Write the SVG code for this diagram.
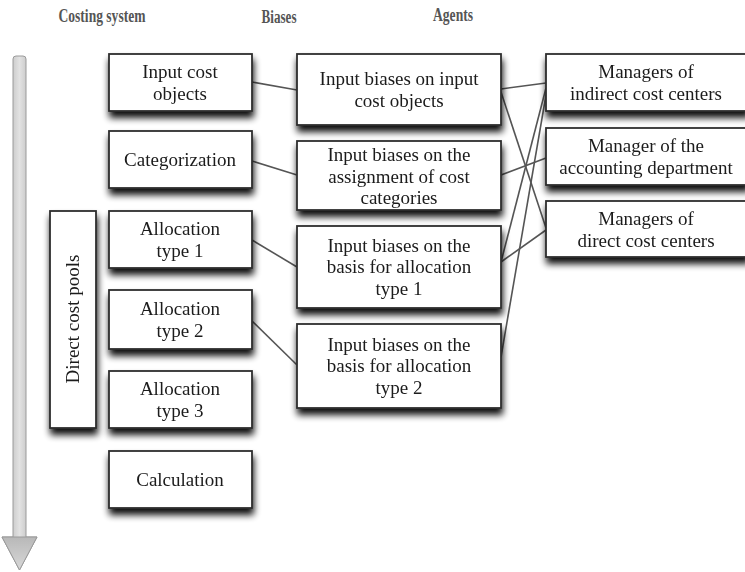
<svg xmlns="http://www.w3.org/2000/svg" width="745" height="572" viewBox="0 0 745 572">
  <defs>
    <filter id="shadow" x="-20%" y="-20%" width="150%" height="160%">
      <feGaussianBlur in="SourceAlpha" stdDeviation="3.5"/>
      <feOffset dx="1" dy="6" result="blur"/>
      <feComponentTransfer><feFuncA type="linear" slope="0.95"/></feComponentTransfer>
      <feMerge><feMergeNode/><feMergeNode in="SourceGraphic"/></feMerge>
    </filter>
    <linearGradient id="shaft" x1="0" y1="0" x2="1" y2="0">
      <stop offset="0" stop-color="#a9a9a9"/>
      <stop offset="0.5" stop-color="#e2e2e2"/>
      <stop offset="1" stop-color="#a9a9a9"/>
    </linearGradient>
    <linearGradient id="head" x1="0" y1="0" x2="0" y2="1">
      <stop offset="0" stop-color="#b8b8b8"/>
      <stop offset="1" stop-color="#d8d8d8"/>
    </linearGradient>
  </defs>
  <style>
    .box { fill: #ffffff; stroke: #2e2e2e; stroke-width: 1.8; }
    .lbl { font-family: 'Liberation Serif', 'DejaVu Serif', 'Times New Roman', Times, serif; font-size: 19px; fill: #1a1a1a; text-anchor: middle; }
    .hdr { font-family: 'Liberation Serif', 'DejaVu Serif', 'Times New Roman', Times, serif; font-size: 18.5px; font-weight: bold; fill: #555555; text-anchor: middle; }
    .conn { stroke: #555555; stroke-width: 1.6; fill: none; }
  </style>

  <!-- column headings -->
  <g id="headings">
    <text class="hdr" x="102" y="22" textLength="87" lengthAdjust="spacingAndGlyphs">Costing system</text>
    <text class="hdr" x="279" y="23" textLength="35" lengthAdjust="spacingAndGlyphs">Biases</text>
    <text class="hdr" x="453" y="21" textLength="40" lengthAdjust="spacingAndGlyphs">Agents</text>
  </g>

  <!-- process direction arrow -->
  <g id="flow-arrow">
    <path d="M13,59 Q13,56 16,56 L23,56 Q26,56 26,59 L26,537 L37,537 L19.5,570 L2,537 L13,537 Z" fill="url(#shaft)" stroke="#9a9a9a" stroke-width="1"/>
    <path d="M26,537 L37,537 L19.5,570 L2,537 L13,537 Z" fill="url(#head)" stroke="#9a9a9a" stroke-width="1"/>
  </g>

  <!-- connectors -->
  <g id="connectors">
    <line class="conn" x1="252" y1="82" x2="297" y2="90"/>
    <line class="conn" x1="252" y1="161" x2="297" y2="175"/>
    <line class="conn" x1="252" y1="240" x2="297" y2="267"/>
    <line class="conn" x1="252" y1="321" x2="297" y2="365"/>
    <line class="conn" x1="501" y1="89" x2="546" y2="83"/>
    <line class="conn" x1="501" y1="92" x2="546" y2="228"/>
    <line class="conn" x1="501" y1="175" x2="546" y2="158"/>
    <line class="conn" x1="501" y1="262" x2="546" y2="230"/>
    <line class="conn" x1="501" y1="262" x2="546" y2="88"/>
    <line class="conn" x1="501" y1="357" x2="546" y2="95"/>
  </g>

  <!-- costing system column -->
  <g id="direct-cost-pools" filter="url(#shadow)">
    <rect class="box" x="50" y="211" width="46" height="217"/>
    <text class="lbl" x="79" y="319" transform="rotate(-90 79 319)">Direct cost pools</text>
  </g>
  <g id="input-cost-objects" filter="url(#shadow)">
    <rect class="box" x="109" y="54" width="143" height="57"/>
    <text class="lbl" x="180" y="78">Input cost</text>
    <text class="lbl" x="180" y="100">objects</text>
  </g>
  <g id="categorization" filter="url(#shadow)">
    <rect class="box" x="109" y="131" width="143" height="57"/>
    <text class="lbl" x="180" y="166">Categorization</text>
  </g>
  <g id="allocation-type-1" filter="url(#shadow)">
    <rect class="box" x="109" y="211" width="143" height="57"/>
    <text class="lbl" x="180" y="235">Allocation</text>
    <text class="lbl" x="180" y="257">type 1</text>
  </g>
  <g id="allocation-type-2" filter="url(#shadow)">
    <rect class="box" x="109" y="290" width="143" height="59"/>
    <text class="lbl" x="180" y="315">Allocation</text>
    <text class="lbl" x="180" y="337">type 2</text>
  </g>
  <g id="allocation-type-3" filter="url(#shadow)">
    <rect class="box" x="109" y="371" width="143" height="57"/>
    <text class="lbl" x="180" y="395">Allocation</text>
    <text class="lbl" x="180" y="417">type 3</text>
  </g>
  <g id="calculation" filter="url(#shadow)">
    <rect class="box" x="109" y="451" width="143" height="57"/>
    <text class="lbl" x="180" y="486">Calculation</text>
  </g>

  <!-- biases column -->
  <g id="bias-input-cost-objects" filter="url(#shadow)">
    <rect class="box" x="297" y="54" width="204" height="71"/>
    <text class="lbl" x="399" y="85">Input biases on input</text>
    <text class="lbl" x="399" y="107">cost objects</text>
  </g>
  <g id="bias-cost-categories" filter="url(#shadow)">
    <rect class="box" x="297" y="141" width="204" height="69"/>
    <text class="lbl" x="399" y="161">Input biases on the</text>
    <text class="lbl" x="399" y="183">assignment of cost</text>
    <text class="lbl" x="399" y="204">categories</text>
  </g>
  <g id="bias-allocation-type-1" filter="url(#shadow)">
    <rect class="box" x="297" y="226" width="204" height="82"/>
    <text class="lbl" x="399" y="252">Input biases on the</text>
    <text class="lbl" x="399" y="273">basis for allocation</text>
    <text class="lbl" x="399" y="295">type 1</text>
  </g>
  <g id="bias-allocation-type-2" filter="url(#shadow)">
    <rect class="box" x="297" y="324" width="204" height="84"/>
    <text class="lbl" x="399" y="351">Input biases on the</text>
    <text class="lbl" x="399" y="372">basis for allocation</text>
    <text class="lbl" x="399" y="394">type 2</text>
  </g>

  <!-- agents column -->
  <g id="agent-indirect-managers" filter="url(#shadow)">
    <rect class="box" x="546" y="54" width="202" height="57"/>
    <text class="lbl" x="646" y="78">Managers of</text>
    <text class="lbl" x="646" y="100">indirect cost centers</text>
  </g>
  <g id="agent-accounting-manager" filter="url(#shadow)">
    <rect class="box" x="546" y="128" width="202" height="57"/>
    <text class="lbl" x="646" y="152">Manager of the</text>
    <text class="lbl" x="646" y="174">accounting department</text>
  </g>
  <g id="agent-direct-managers" filter="url(#shadow)">
    <rect class="box" x="546" y="201" width="202" height="56"/>
    <text class="lbl" x="646" y="225">Managers of</text>
    <text class="lbl" x="646" y="247">direct cost centers</text>
  </g>
</svg>
